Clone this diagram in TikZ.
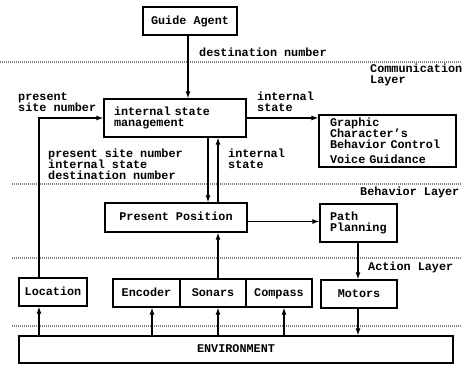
\documentclass[tikz,border=0pt]{standalone}
\usepackage{fontspec}
\setmainfont{Liberation Mono}
\usetikzlibrary{arrows.meta,calc}
\begin{document}
\begin{tikzpicture}[x=1pt,y=-1pt,
  font=\fontsize{11.8}{11}\selectfont\bfseries,
  box/.style={draw,line width=1.3pt,inner sep=0pt,align=center},
  one/.style={text height=8pt,text depth=2pt},
  lbl/.style={inner sep=0pt,anchor=west,align=left},
  arr/.style={line width=1.1pt,-{Latex[length=7pt,width=5pt]}},
  layer/.style={gray,line width=1.2pt,dash pattern=on 1pt off 1pt}]
\useasboundingbox (0,0) rectangle (462,364);
% layer lines
\draw[layer] (0,62) -- (462,62);
\draw[layer] (12,184) -- (462,184);
\draw[layer] (12,258) -- (462,258);
\draw[layer] (12,326) -- (462,326);
% boxes
\node[box,one,minimum width=94,minimum height=28] (ga) at (190,21) {Guide Agent};
\node[box,minimum width=140,minimum height=38,text width=122,inner xsep=10pt,align=left] (ism) at (175,118) {internal state\\management};
\node[box,minimum width=135,minimum height=52,text width=115,inner xsep=11pt,align=left] (gc) at (387.5,141) {Graphic\\Character's\\Behavior Control\\[4pt]Voice Guidance};
\node[box,one,minimum width=142,minimum height=29] (pp) at (176,217.5) {Present Position};
\node[box,minimum width=77,minimum height=38,text width=57,inner xsep=10pt,align=left] (path) at (358.5,223) {Path\\Planning};
\node[box,one,minimum width=68,minimum height=28] (loc) at (53,292) {Location};
\node[box,one,minimum width=67,minimum height=28] (enc) at (146.5,293) {Encoder};
\node[box,one,minimum width=66,minimum height=28] (son) at (213,293) {Sonars};
\node[box,one,minimum width=66,minimum height=28] (com) at (279,293) {Compass};
\node[box,one,minimum width=76,minimum height=28] (mot) at (359,294) {Motors};
\node[box,one,minimum width=434,minimum height=27] (env) at (236,349.5) {ENVIRONMENT};
% column coordinates
\coordinate (xl) at (39,0);
\coordinate (xe) at (152,0);
\coordinate (xdn) at (208,0);
\coordinate (xup) at (218,0);
\coordinate (xc) at (284,0);
\coordinate (xm) at (358,0);
\coordinate (xg) at (188,0);
% connectors
\draw[arr] (ga.south -| xg) -- (ism.north -| xg);
\draw[arr] (loc.north -| xl) |- (ism.west);
\draw[arr] (ism.east) -- (ism.east -| gc.west);
\draw[arr] (ism.south -| xdn) -- (pp.north -| xdn);
\draw[arr] (pp.north -| xup) -- (ism.south -| xup);
\draw[arr] ($(pp.east)+(0,4)$) -- ($(pp.east -| path.west)+(0,4)$);
\draw[arr] (son.north -| xup) -- (pp.south -| xup);
\draw[arr] (path.south -| xm) -- (mot.north -| xm);
\draw[arr] (env.north -| xl) -- (loc.south -| xl);
\draw[arr] (env.north -| xe) -- (enc.south -| xe);
\draw[arr] (env.north -| xup) -- (son.south -| xup);
\draw[arr] (env.north -| xc) -- (com.south -| xc);
\draw[arr] (mot.south -| xm) -- (env.north -| xm);
% labels
\node[lbl] (l1) at (199,52) {destination number};
\node[lbl] (l2) at (370,75) {Communication\\Layer};
\node[lbl] (l3) at (18,102) {present\\site number};
\node[lbl] (l4) at (257,102) {internal\\state};
\node[lbl] (l5) at (48,164) {present site number\\internal state\\destination number};
\node[lbl] (l6) at (228,158.5) {internal\\state};
\node[lbl] (l7) at (360,192) {Behavior Layer};
\node[lbl] (l8) at (368,267) {Action Layer};
\end{tikzpicture}
\end{document}
